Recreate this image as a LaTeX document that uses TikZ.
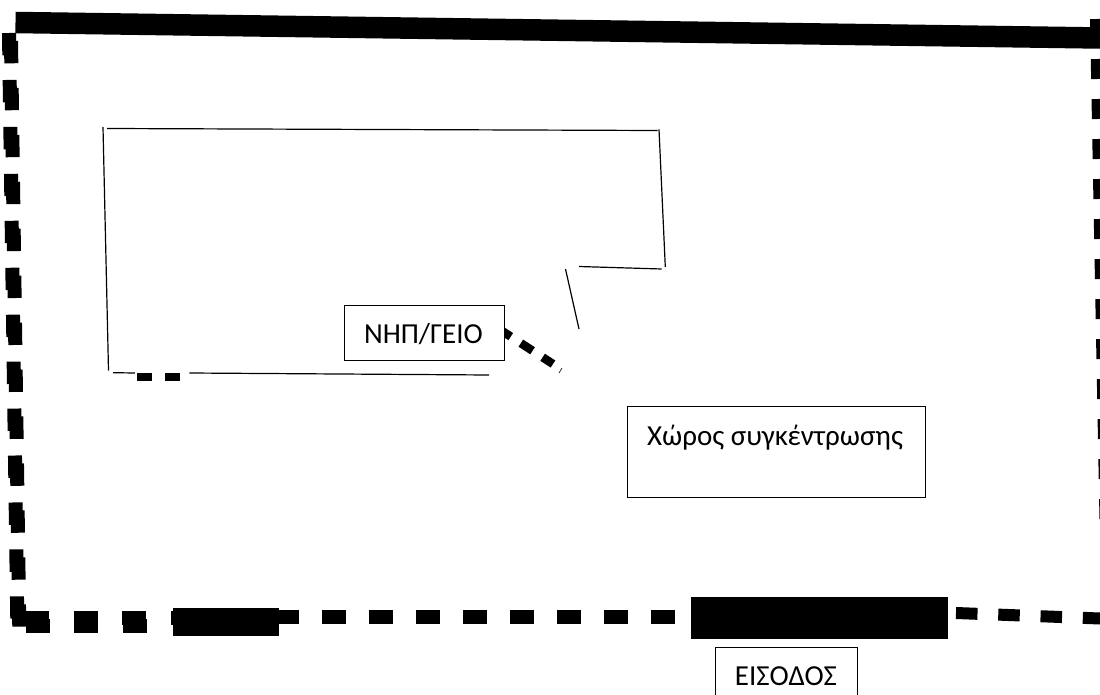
\documentclass[tikz,border=0pt]{standalone}
\usepackage{fontspec}
\setmainfont{Carlito}
\tikzset{
  x=1pt,y=-1pt,
  thin line/.style={draw=black,line width=1.2pt},
  labelbox/.style={draw=black,line width=1pt,fill=white,inner sep=0pt},
  labeltext/.style={font=\fontsize{29}{34}\selectfont,inner sep=0pt,anchor=base},
  heavy left/.style={black,line width=14pt,dash pattern=on 22.3pt off 24.65pt},
  heavy bottom/.style={black,line width=14pt,dash pattern=on 24pt off 24.7pt},
  heavy bottom two/.style={black,line width=14pt,dash pattern=on 23.5pt off 23.5pt},
  heavy right/.style={black,line width=14pt,dash pattern=on 20pt off 20pt},
  heavy low/.style={black,line width=12pt,dash pattern=on 21.5pt off 20.8pt},
  door/.style={black,line width=8.5pt,dash pattern=on 14pt off 12pt},
  door low/.style={black,line width=8pt,dash pattern=on 14.4pt off 13.6pt},
}
\begin{document}
\begin{tikzpicture}
\useasboundingbox (0,0) rectangle (1100,695);
\clip (0,0) rectangle (1100,695);
% outer wall: left side, two overlapping dashed runs
\coordinate (la1) at (9,33); \coordinate (la2) at (17.3,620);
\coordinate (lb1) at (11,41); \coordinate (lb2) at (19.3,628);
\draw[heavy left] (la1) -- (la2);
\draw[heavy left] (lb1) -- (lb2);
% bottom side
\coordinate (ba1) at (25,617.5); \coordinate (ba2) at (180,617.5);
\coordinate (bb1) at (25.5,625.5); \coordinate (bb2) at (150,625.5);
\draw[heavy bottom] (ba1) -- (ba2);
\draw[heavy bottom] (bb1) -- (bb2);
\coordinate (bc1) at (275,617); \coordinate (bc2) at (680,617);
\draw[heavy bottom two] (bc1) -- (bc2);
\coordinate (bd1) at (956,613); \coordinate (bd2) at (1100,618.5);
\draw[heavy low] (bd1) -- (bd2);
% right side
\coordinate (ra1) at (1097,19); \coordinate (ra2) at (1106.5,520);
\draw[heavy right] (ra1) -- (ra2);
% top wall
\coordinate (ta1) at (15.5,22.5); \coordinate (ta2) at (1100,38);
\draw[black,line width=21.5pt] (ta1) -- (ta2);
% blocks
\fill[black] (173,608) rectangle (279,636);
\fill[black] (690.5,596.5) rectangle (948,639);
% building outline
\coordinate (a1) at (103,127); \coordinate (a2) at (108.5,370.5);
\coordinate (b1) at (107,128.5); \coordinate (b2) at (657.5,130.5);
\coordinate (c1) at (659,129.3); \coordinate (c2) at (665.3,267);
\coordinate (d1) at (579,266.5); \coordinate (d2) at (661.7,269);
\coordinate (e1) at (565.5,269); \coordinate (e2) at (579,329);
\coordinate (f1) at (562,368); \coordinate (f2) at (559,373);
\coordinate (g1) at (113,372.7); \coordinate (g2) at (135,373);
\coordinate (h1) at (189.3,373); \coordinate (h2) at (489,375);
\draw[thin line] (a1) -- (a2);
\draw[thin line] (b1) -- (b2);
\draw[thin line] (c1) -- (c2);
\draw[thin line] (d1) -- (d2);
\draw[thin line] (e1) -- (e2);
\draw[draw=black,line width=.6pt] (f1) -- (f2);
\draw[thin line] (g1) -- (g2);
\draw[thin line] (h1) -- (h2);
% doors
\coordinate (i1) at (137.3,377); \coordinate (i2) at (180,377);
\draw[door low] (i1) -- (i2);
\coordinate (j1) at (499,329); \coordinate (j2) at (553,364);
\draw[door] (j1) -- (j2);
% labels
\node[labelbox,minimum width=159.5pt,minimum height=55.5pt,anchor=north west] (nip) at (344,304.5) {};
\node[labeltext] (nipt) at (423.5,343) {ΝΗΠ/ΓΕΙΟ};
\node[labelbox,minimum width=298pt,minimum height=91pt,anchor=north west] (area) at (627,406) {};
\node[labeltext] (areat) at (775,445) {Χώρος συγκέντρωσης};
\node[labelbox,minimum width=142.5pt,minimum height=60pt,anchor=north west] (ent) at (714.5,646.5) {};
\node[labeltext] (entt) at (786,685) {ΕΙΣΟΔΟΣ};
\end{tikzpicture}
\end{document}
